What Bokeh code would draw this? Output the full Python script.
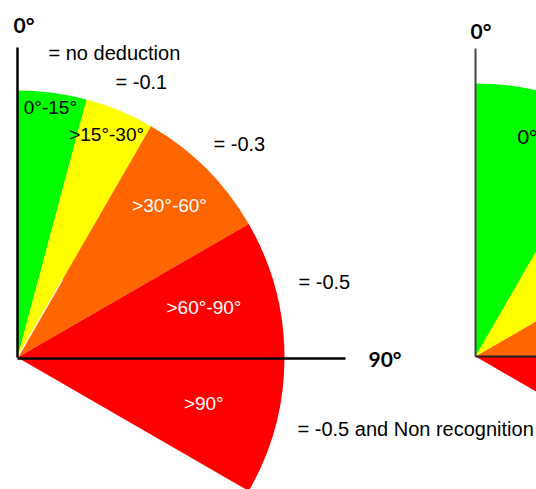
import math
from bokeh.plotting import figure
from bokeh.models import Range1d, ColumnDataSource
from bokeh.embed import file_html
from bokeh.resources import INLINE
from bokeh.core.properties import value

# ---- data ----
left_ranges = ["0°-15°", ">15°-30°", ">30°-60°", ">60°-90°", ">90°"]
left_from = [0, 15, 30, 60, 90]
left_to = [15, 30, 60, 90, 120]
left_colors = ["#00ff00", "#ffff00", "#ff6600", "#ff0000", "#ff0000"]
left_text_colors = ["black", "black", "white", "white", "white"]
deductions = ["= no deduction", "= -0.1", "= -0.3", "= -0.5", "= -0.5 and Non recognition"]

right_ranges = ["0°-30°", ">30°-60°", ">60°-90°", ">90°"]
right_from = [0, 30, 60, 90]
right_to = [30, 60, 90, 120]
right_colors = ["#00ff00", "#ffff00", "#ff6600", "#ff0000"]

axis_labels = ["0°", "90°"]

# ---- layout ----
W, H = 536, 489
L_OX, L_OY, L_R = 0, 0, 267
R_OX, R_OY, R_R = 458, 1, 273
label_r = [252, 240, 215, 193, 192]
label_ang_adj = [0, -0.7, 0, 0, -1]
ded_pos = [(31, 305), (98, 276), (196, 214), (281, 76), (280, -71)]

p = figure(width=W, height=H, output_backend="svg", toolbar_location=None,
           x_range=Range1d(-17, 519), y_range=Range1d(-132, 357),
           x_axis_type=None, y_axis_type=None, min_border=0)
p.grid.visible = False
p.outline_line_color = None
p.background_fill_color = "white"
p.border_fill_color = "white"


def to_bokeh(theta_from, theta_to):
    # theta measured clockwise from vertical -> radians ccw from +x
    return math.radians(90 - theta_to), math.radians(90 - theta_from)


# left wedges
ls = ColumnDataSource(dict(
    x=[L_OX] * len(left_from), y=[L_OY] * len(left_from),
    start=[to_bokeh(a, b)[0] for a, b in zip(left_from, left_to)],
    end=[to_bokeh(a, b)[1] for a, b in zip(left_from, left_to)],
    color=left_colors))
p.wedge(x="x", y="y", radius=L_R, start_angle="start", end_angle="end",
        fill_color="color", line_color=None, source=ls)

# right wedges
rs = ColumnDataSource(dict(
    x=[R_OX] * len(right_from), y=[R_OY] * len(right_from),
    start=[to_bokeh(a, b)[0] for a, b in zip(right_from, right_to)],
    end=[to_bokeh(a, b)[1] for a, b in zip(right_from, right_to)],
    color=right_colors))
p.wedge(x="x", y="y", radius=R_R, start_angle="start", end_angle="end",
        fill_color="color", line_color=None, source=rs)

# thin white line on the yellow/orange boundary near the origin
t = math.radians(left_from[2])
p.line([L_OX, L_OX + 90 * math.sin(t)], [L_OY, L_OY + 90 * math.cos(t)],
       line_color="white", line_width=1.2)

# axes
p.line([L_OX, L_OX], [L_OY, 310], line_color="black", line_width=2.5)
p.line([L_OX, 328], [L_OY - 1, L_OY - 1], line_color="black", line_width=2.5)
p.line([R_OX, R_OX], [R_OY, 309], line_color="#444444", line_width=2)
p.line([R_OX, 530], [R_OY, R_OY], line_color="#222222", line_width=2)

# wedge labels (left)
lx, ly = [], []
for a, b, r, adj in zip(left_from, left_to, label_r, label_ang_adj):
    m = math.radians((a + b) / 2 + adj)
    lx.append(L_OX + r * math.sin(m))
    ly.append(L_OY + r * math.cos(m))
p.text(x=lx, y=ly, text=left_ranges, text_color=left_text_colors,
       text_font=value("Liberation Sans"), text_font_size="19px",
       text_align="center", text_baseline="middle")

# deduction labels
p.text(x=[q[0] for q in ded_pos], y=[q[1] for q in ded_pos], text=deductions,
       text_color="black", text_font=value("Liberation Sans"), text_font_size="20px",
       text_align="left", text_baseline="middle")

# right first wedge label (cut off at the edge, as in the source)
p.text(x=[500], y=[222], text=[right_ranges[0]], text_color="black",
       text_font=value("Lato"), text_font_size="20px",
       text_align="left", text_baseline="middle")

# axis labels
p.text(x=[-4, 351, 453], y=[333, -1, 327],
       text=[axis_labels[0], axis_labels[1], axis_labels[0]], text_color="black",
       text_font=value("Lato"), text_font_style="bold", text_font_size="21px",
       text_align="left", text_baseline="middle")

open("out.html", "w").write(file_html(p, INLINE))
